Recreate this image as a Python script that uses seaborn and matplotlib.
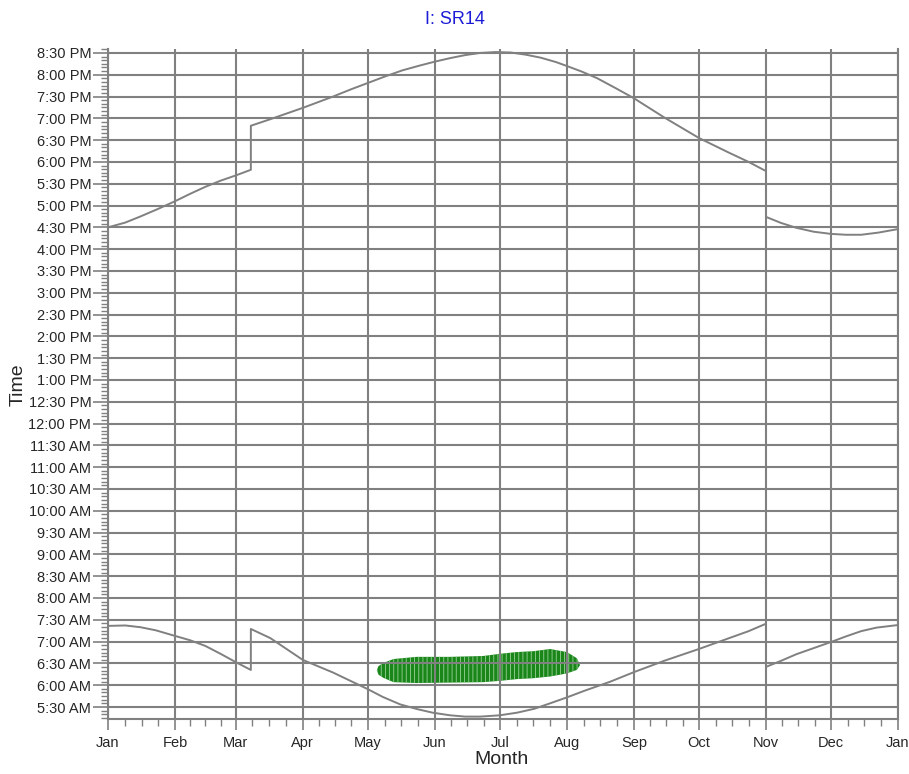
import numpy as np
import matplotlib
matplotlib.use("Agg")
import matplotlib.pyplot as plt
import seaborn as sns
from matplotlib.ticker import FixedLocator

# ---------------- data ----------------
month_labels = ["Jan", "Feb", "Mar", "Apr", "May", "Jun", "Jul", "Aug",
                "Sep", "Oct", "Nov", "Dec", "Jan"]
month_days = [0, 31, 59, 90, 120, 151, 181, 212, 243, 273, 304, 334, 365]

ytick_values = [5.5 + 0.5 * i for i in range(31)]
ytick_labels = ["5:30 AM", "6:00 AM", "6:30 AM", "7:00 AM", "7:30 AM", "8:00 AM",
                "8:30 AM", "9:00 AM", "9:30 AM", "10:00 AM", "10:30 AM", "11:00 AM",
                "11:30 AM", "12:00 PM", "12:30 PM", "1:00 PM", "1:30 PM", "2:00 PM",
                "2:30 PM", "3:00 PM", "3:30 PM", "4:00 PM", "4:30 PM", "5:00 PM",
                "5:30 PM", "6:00 PM", "6:30 PM", "7:00 PM", "7:30 PM", "8:00 PM",
                "8:30 PM"]

# sunset (hours) by day of year
sunset_days = [0, 8, 15, 23, 31, 38, 45, 52, 59, 66, 66, 75, 90, 104, 112, 120,
               128, 136, 144, 151, 158, 165, 172, 179, 186, 193, 200, 207, 212,
               219, 226, 235, 243, 257, 273, 287, 296, 304, 304, 311, 318, 326,
               334, 341, 348, 356, 365]
sunset = [16.50, 16.61, 16.75, 16.92, 17.10, 17.27, 17.43, 17.57, 17.69, 17.82,
          18.83, 18.98, 19.24, 19.50, 19.66, 19.81, 19.96, 20.10, 20.21, 20.30,
          20.38, 20.45, 20.50, 20.52, 20.51, 20.46, 20.39, 20.29, 20.20, 20.07,
          19.92, 19.68, 19.46, 19.02, 18.55, 18.21, 18.00, 17.79, 16.74, 16.60,
          16.49, 16.40, 16.35, 16.33, 16.33, 16.38, 16.46]

# sunrise (hours) by day of year
sunrise_days = [0, 8, 15, 22, 31, 38, 45, 52, 59, 66, 66, 75, 90, 104, 112, 120,
                127, 135, 143, 150, 158, 165, 172, 181, 189, 197, 204, 212, 220,
                232, 243, 257, 273, 287, 296, 304, 304, 311, 318, 326, 334, 341,
                348, 355, 365]
sunrise = [7.36, 7.37, 7.33, 7.26, 7.13, 7.03, 6.90, 6.72, 6.53, 6.35, 7.29,
           7.08, 6.58, 6.29, 6.10, 5.91, 5.73, 5.56, 5.45, 5.37, 5.31, 5.28,
           5.28, 5.31, 5.37, 5.46, 5.58, 5.72, 5.87, 6.08, 6.30, 6.56, 6.83,
           7.08, 7.24, 7.41, 6.42, 6.56, 6.71, 6.85, 6.99, 7.12, 7.24, 7.32, 7.38]

# shading events (green region)
blob_days = [124.2, 125.0, 127.2, 131.9, 142.6, 158.0, 173.4, 181.1, 188.9,
             196.5, 204.3, 212.0, 216.6, 218.1]
blob_top = [6.35, 6.44, 6.51, 6.60, 6.65, 6.65, 6.67, 6.72, 6.76, 6.78, 6.83,
            6.76, 6.62, 6.46]
blob_bottom = [6.35, 6.24, 6.17, 6.07, 6.05, 6.06, 6.07, 6.10, 6.14, 6.16,
               6.20, 6.27, 6.35, 6.46]

# ---------------- style ----------------
sns.set_style("white")
plt.rcParams['font.family'] = ['Liberation Sans', 'DejaVu Sans']
plt.rcParams['hatch.linewidth'] = 0.6

GRAY = "#808080"

fig = plt.figure(figsize=(9.09, 7.74), dpi=100)
ax = fig.add_axes([108 / 909, 55 / 774, 790 / 909, 670 / 774])

ax.fill_between(blob_days, blob_bottom, blob_top, facecolor="#1a861a",
                edgecolor="#9ad29a", hatch="||||", linewidth=0, zorder=0.4)

sns.lineplot(x=sunset_days, y=sunset, estimator=None, sort=False,
             color=GRAY, lw=1.4, ax=ax, zorder=3)
sns.lineplot(x=sunrise_days, y=sunrise, estimator=None, sort=False,
             color=GRAY, lw=1.4, ax=ax, zorder=3)

ax.set_xlim(0, 365)
ax.set_ylim(5.225, 20.59)

ax.set_xticks(month_days)
ax.set_xticklabels(month_labels, fontsize=10.5)
ax.set_yticks(ytick_values)
ax.set_yticklabels(ytick_labels, fontsize=10.5)

x_minor = []
for a, b in zip(month_days[:-1], month_days[1:]):
    for k in (1, 2, 3):
        x_minor.append(a + (b - a) * k / 4)
ax.xaxis.set_minor_locator(FixedLocator(x_minor))
ax.yaxis.set_minor_locator(FixedLocator(list(np.arange(5.25, 20.59, 1 / 12))))

ax.grid(True, which="major", color=GRAY, lw=1.5)
ax.set_axisbelow(True)

ax.tick_params(axis="x", which="major", direction="out", length=8, width=1.2,
               color=GRAY, pad=4, bottom=True)
ax.tick_params(axis="x", which="minor", direction="out", length=5, width=1.0,
               color=GRAY, bottom=True)
ax.tick_params(axis="y", which="major", direction="out", length=11, width=1.2,
               color=GRAY, pad=1, left=True)
ax.tick_params(axis="y", which="minor", direction="out", length=5, width=1.0,
               color=GRAY, left=True)

for side in ("left", "bottom", "right"):
    ax.spines[side].set_visible(True)
    ax.spines[side].set_color(GRAY)
    ax.spines[side].set_linewidth(1.5)
ax.spines["top"].set_visible(False)

ax.set_xlabel("")
ax.set_ylabel("")
fig.text(502 / 909, 1 - 760 / 774, "Month", fontsize=14, ha="center", va="center")
fig.text(18 / 909, 1 - 385 / 774, "Time", fontsize=14, ha="center", va="center",
         rotation=90)
fig.text(455 / 909, 1 - 19 / 774, "I: SR14", fontsize=13, color="#1c1cd8",
         ha="center", va="center")

fig.savefig("out.png", dpi=100)
